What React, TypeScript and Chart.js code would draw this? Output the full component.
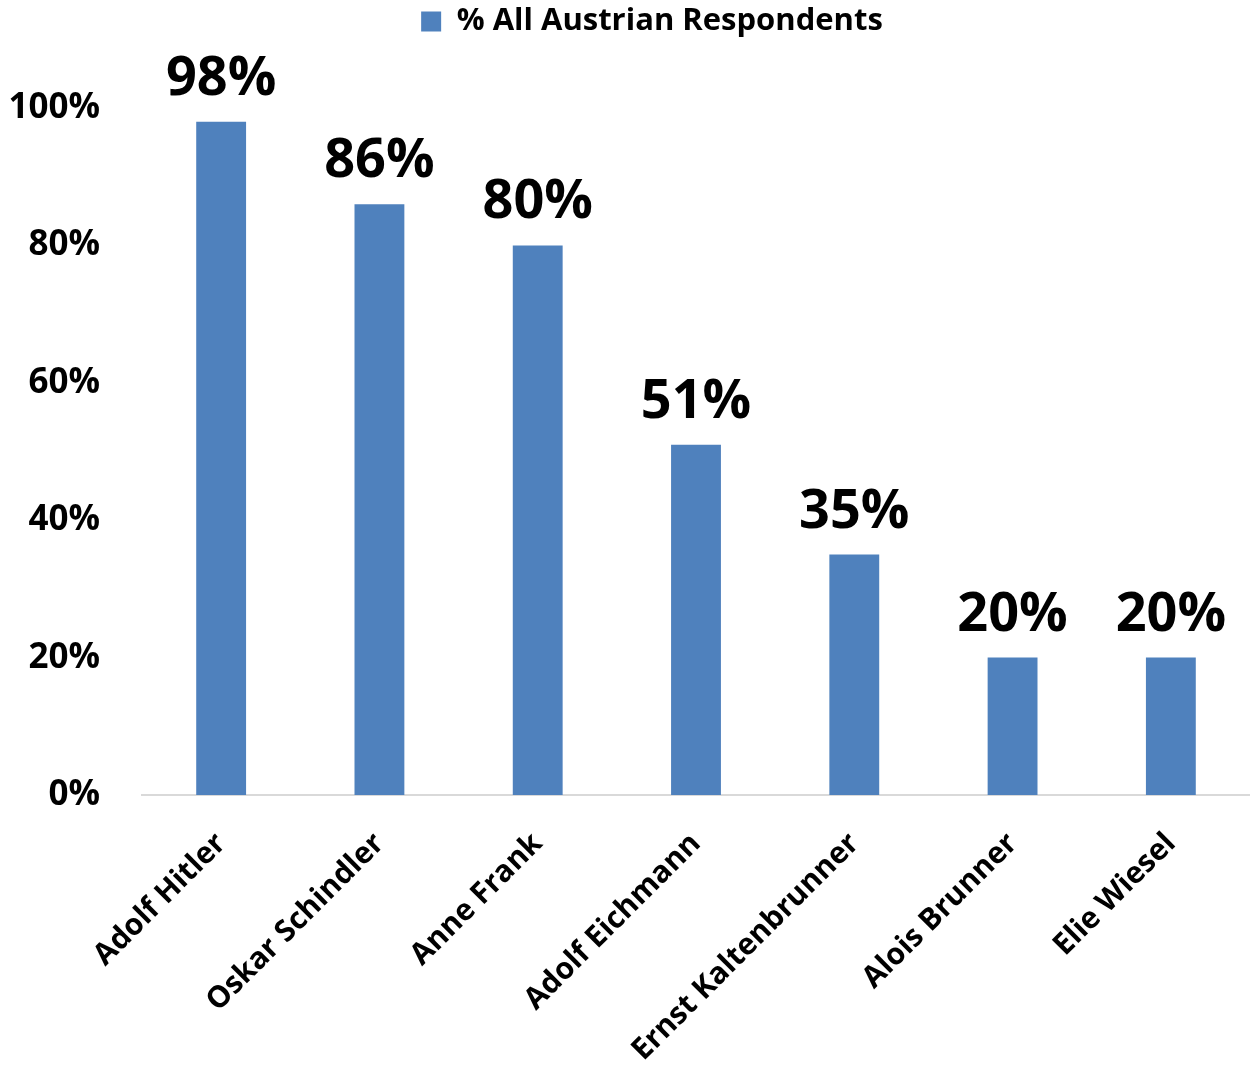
import React, { useEffect, useRef } from "react";
import { Chart, registerables } from "chart.js";

Chart.register(...registerables);

const categories = [
  "Adolf Hitler",
  "Oskar Schindler",
  "Anne Frank",
  "Adolf Eichmann",
  "Ernst Kaltenbrunner",
  "Alois Brunner",
  "Elie Wiesel",
];
const seriesLabel = "% All Austrian Respondents";
const seriesValues = [98, 86, 80, 51, 35, 20, 20];
const yTicks = [0, 20, 40, 60, 80, 100];

const FONT = "'Open Sans', 'DejaVu Sans', sans-serif";
const BAR_COLOR = "#4f81bd";

const valueLabels = {
  id: "valueLabels",
  afterDatasetsDraw(chart: any) {
    const ctx = chart.ctx;
    const meta = chart.getDatasetMeta(0);
    ctx.save();
    ctx.font = `bold 54px ${FONT}`;
    ctx.fillStyle = "#000000";
    ctx.textAlign = "center";
    ctx.textBaseline = "alphabetic";
    meta.data.forEach((bar: any, i: number) => {
      const v = chart.data.datasets[0].data[i];
      ctx.fillText(`${v}%`, bar.x, bar.y - 27);
    });
    ctx.restore();
  },
};

// fixed legend height (plot area top) and a small horizontal offset of the legend, as in the reference
const legendTweak = {
  id: "legendTweak",
  afterInit(chart: any) {
    const legend = chart.legend;
    if (!legend || legend.__patched) return;
    const origFit = legend.fit;
    legend.fit = function () {
      origFit.call(this);
      this.height = 108;
    };
    const origDraw = legend.draw;
    legend.draw = function (...args: any[]) {
      const l = this.left;
      this.left = l + 54;
      origDraw.apply(this, args);
      this.left = l;
    };
    legend.__patched = true;
  },
};

export default function App() {
  const ref = useRef<HTMLCanvasElement | null>(null);

  useEffect(() => {
    document.body.style.margin = "0";
    const canvas = ref.current;
    if (!canvas) return;
    const chart = new Chart(canvas, {
      type: "bar",
      data: {
        labels: categories,
        datasets: [
          {
            label: seriesLabel,
            data: seriesValues,
            backgroundColor: BAR_COLOR,
            borderWidth: 0,
            barPercentage: 0.63,
            categoryPercentage: 0.5,
          },
        ],
      },
      options: {
        animation: false,
        responsive: false,
        maintainAspectRatio: false,
        layout: { padding: { left: 0, right: 0, top: 0, bottom: 0 } },
        plugins: {
          tooltip: { enabled: false },
          legend: {
            display: true,
            position: "top",
            labels: {
              color: "#000000",
              font: { family: FONT, size: 31, weight: "bold" },
              boxWidth: 20,
              boxHeight: 20,
              padding: 6,
            },
          },
        },
        scales: {
          x: {
            grid: { display: false, drawTicks: false },
            border: { display: true, color: "#d9d9d9", width: 2 },
            ticks: {
              color: "#000000",
              font: { family: FONT, size: 30, weight: "bold" },
              minRotation: 45,
              maxRotation: 45,
              padding: 31,
              autoSkip: false,
            },
            afterFit(scale: any) {
              scale.height = 270;
            },
          },
          y: {
            min: 0,
            max: 100,
            afterBuildTicks(scale: any) {
              scale.ticks = yTicks.map((v) => ({ value: v }));
            },
            grid: { display: false, drawTicks: false },
            border: { display: false },
            ticks: {
              color: "#000000",
              font: { family: FONT, size: 35, weight: "bold" },
              padding: 42,
              callback: (v: any) => `${v}%`,
            },
            afterFit(scale: any) {
              scale.width = 142;
            },
          },
        },
      },
      plugins: [legendTweak, valueLabels],
    });
    return () => chart.destroy();
  }, []);

  return (
    <div style={{ width: 1250, height: 1065 }}>
      <canvas ref={ref} width={1250} height={1065} style={{ display: "block" }} />
    </div>
  );
}
